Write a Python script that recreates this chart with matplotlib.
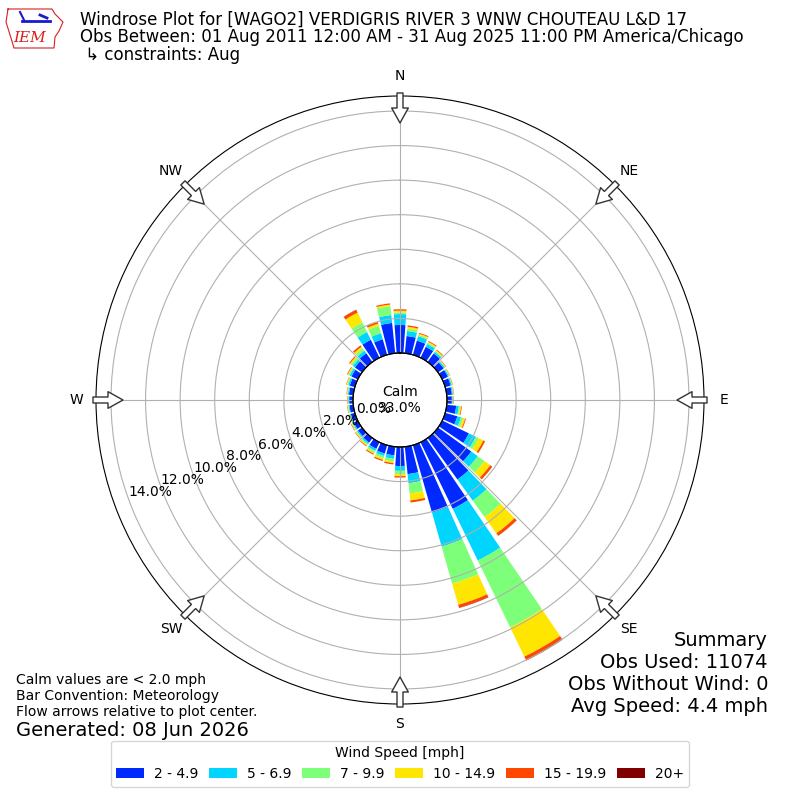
import numpy as np
import matplotlib
matplotlib.use("Agg")
import matplotlib.pyplot as plt
from matplotlib.patches import Patch
from matplotlib.lines import Line2D

# ---------------- data ----------------
directions = list(range(0, 360, 10))
speed_labels = ["2 - 4.9", "5 - 6.9", "7 - 9.9", "10 - 14.9", "15 - 19.9", "20+"]

spd_2_5 = [1.62, 1.00, 0.85, 0.70, 0.60, 0.40, 0.36, 0.33, 0.30, 0.28,
           0.55, 0.73, 1.71, 2.37, 2.96, 4.28, 4.05, 1.59, 1.10, 0.50,
           0.50, 0.42, 0.32, 0.28, 0.26, 0.24, 0.22, 0.22, 0.25, 0.30,
           0.40, 0.50, 0.62, 1.15, 0.93, 1.76]
spd_5_7 = [0.63, 0.29, 0.26, 0.18, 0.12, 0.08, 0.07, 0.07, 0.06, 0.05,
           0.15, 0.22, 0.45, 0.46, 1.51, 3.32, 2.05, 0.53, 0.28, 0.20,
           0.15, 0.13, 0.10, 0.08, 0.07, 0.06, 0.05, 0.05, 0.06, 0.10,
           0.12, 0.15, 0.18, 0.50, 0.37, 0.46]
spd_7_10 = [0.10, 0.14, 0.09, 0.08, 0.06, 0.04, 0.04, 0.03, 0.03, 0.03,
            0.08, 0.13, 0.18, 0.48, 1.17, 4.30, 2.23, 0.59, 0.19, 0.15,
            0.13, 0.11, 0.08, 0.06, 0.05, 0.04, 0.04, 0.03, 0.04, 0.06,
            0.08, 0.13, 0.17, 0.62, 0.44, 0.52]
spd_10_15 = [0.10, 0.11, 0.07, 0.06, 0.06, 0.03, 0.02, 0.02, 0.02, 0.02,
             0.06, 0.12, 0.30, 0.41, 1.16, 1.88, 1.27, 0.41, 0.12, 0.10,
             0.10, 0.08, 0.06, 0.05, 0.04, 0.04, 0.03, 0.03, 0.03, 0.04,
             0.05, 0.08, 0.11, 0.63, 0.13, 0.09]
spd_15_20 = [0.08, 0.08, 0.05, 0.05, 0.04, 0.03, 0.02, 0.02, 0.02, 0.02,
             0.04, 0.05, 0.11, 0.15, 0.17, 0.22, 0.17, 0.12, 0.08, 0.08,
             0.07, 0.06, 0.04, 0.03, 0.03, 0.02, 0.02, 0.02, 0.02, 0.02,
             0.04, 0.06, 0.10, 0.18, 0.10, 0.07]
spd_20p = [0.0, 0.0, 0.0, 0.0, 0.0, 0.0, 0.0, 0.0, 0.0, 0.0,
           0.0, 0.0, 0.0, 0.0, 0.01, 0.03, 0.02, 0.0, 0.0, 0.0,
           0.0, 0.0, 0.0, 0.0, 0.0, 0.0, 0.0, 0.0, 0.0, 0.0,
           0.0, 0.0, 0.0, 0.01, 0.0, 0.0]
series = [spd_2_5, spd_5_7, spd_7_10, spd_10_15, spd_15_20, spd_20p]

calm_pct = 33.0
ring_values = [0, 2, 4, 6, 8, 10, 12, 14]
compass_labels = ["N", "NE", "E", "SE", "S", "SW", "W", "NW"]
compass_angles = [0, 45, 90, 135, 180, 225, 270, 315]

title_lines = [
    "Windrose Plot for [WAGO2] VERDIGRIS RIVER 3 WNW CHOUTEAU L&D 17",
    "Obs Between: 01 Aug 2011 12:00 AM - 31 Aug 2025 11:00 PM America/Chicago",
    " \u21b3 constraints: Aug",
]
summary_lines = ["Summary", "Obs Used: 11074", "Obs Without Wind: 0",
                 "Avg Speed: 4.4 mph"]
note_lines = ["Calm values are < 2.0 mph", "Bar Convention: Meteorology",
              "Flow arrows relative to plot center."]
generated = "Generated: 08 Jun 2026"

# ---------------- figure ----------------
fig = plt.figure(figsize=(8, 8), dpi=100)
ax = fig.add_axes([0.12, 0.12, 0.76, 0.76], projection="polar")
ax.set_theta_zero_location("N")
ax.set_theta_direction(-1)
RORIGIN = -2.719
RMAX = 14.868
ax.set_rorigin(RORIGIN)
ax.set_ylim(0, RMAX)


def px2r(px):
    return px / 304.0 * (RMAX - RORIGIN) + RORIGIN


colors = plt.get_cmap("jet")(np.linspace(0, 1, 7))[1:]
theta = np.deg2rad(directions)
width = np.deg2rad(10) * 0.83
bottom = np.zeros(len(directions))
handles = []
for vals, c, lab in zip(series, colors, speed_labels):
    vals = np.asarray(vals)
    ax.bar(theta, vals, width=width, bottom=bottom, color=c,
           linewidth=0, align="center", zorder=1)
    bottom = bottom + vals
    handles.append(Patch(facecolor=c, label=lab))

ax.set_rgrids(ring_values, labels=[""] * len(ring_values))
ax.set_thetagrids(compass_angles, labels=[""] * len(compass_angles))
ax.grid(True, color="#b0b0b0", linewidth=0.8)

# calm circle
tt = np.linspace(0, 2 * np.pi, 400)
ax.plot(tt, np.zeros_like(tt), color="black", lw=0.9, clip_on=False, zorder=3)
fig.text(0.5, 0.5, "Calm\n%.1f%%" % calm_pct, ha="center", va="center",
         fontsize=10)

# radial labels
for v in ring_values:
    ax.text(np.deg2rad(250), v, "%.1f%%" % v, ha="left", va="bottom",
            fontsize=10, zorder=5)

# compass labels and flow arrows
for lab, ang in zip(compass_labels, compass_angles):
    a = np.deg2rad(ang)
    ax.text(a, px2r(324), lab, ha="center", va="center", fontsize=10)
    ax.annotate("", xy=(a, px2r(277)), xytext=(a, px2r(307)),
                arrowprops=dict(arrowstyle="simple,head_length=1.08,head_width=1.2,tail_width=0.43",
                                fc="white", ec="#333333", lw=1.0,
                                shrinkA=0, shrinkB=0),
                annotation_clip=False, zorder=6)

# titles
for i, line in enumerate(title_lines):
    fig.text(80 / 800, 1 - (20 + i * 17.5) / 800, line, ha="left",
             va="center", fontsize=12)

# logo approximation (outline + mark + text)
def fpx(x, y):
    return x / 800, 1 - y / 800

outline = [(8, 9), (52, 9), (55, 14), (63, 22), (59, 31), (55, 37),
           (54, 48), (14, 48), (11, 38), (6, 22), (8, 9)]
ox, oy = zip(*[fpx(x, y) for x, y in outline])
fig.add_artist(Line2D(ox, oy, color="#d62020", lw=0.8))
bx, by = zip(*[fpx(x, y) for x, y in [(22, 21), (50, 21)]])
fig.add_artist(Line2D(bx, by, color="#1a1acc", lw=2.0))
bx, by = zip(*[fpx(x, y) for x, y in [(20, 12), (24, 20)]])
fig.add_artist(Line2D(bx, by, color="#1a1acc", lw=1.5))
bx, by = zip(*[fpx(x, y) for x, y in [(40, 15), (47, 18)]])
fig.add_artist(Line2D(bx, by, color="#1a1acc", lw=2.0))
fig.text(30 / 800, 1 - 38 / 800, "IEM", ha="center", va="center",
         fontsize=11, color="#d62020", family="DejaVu Serif", style="italic")

# summary
for i, line in enumerate(summary_lines):
    fig.text(768 / 800, 1 - (640 + i * 22) / 800, line, ha="right",
             va="center", fontsize=14)

for i, line in enumerate(note_lines):
    fig.text(16 / 800, 1 - (680 + i * 16) / 800, line, ha="left",
             va="center", fontsize=10)
fig.text(16 / 800, 1 - 730 / 800, generated, ha="left", va="center",
         fontsize=14)

leg = fig.legend(handles=handles, loc="lower center",
                 bbox_to_anchor=(0.5, 0.008), ncol=6,
                 title="Wind Speed [mph]", fontsize=10, title_fontsize=10,
                 columnspacing=0.8, handletextpad=0.7)

fig.savefig("out.png", dpi=100)
